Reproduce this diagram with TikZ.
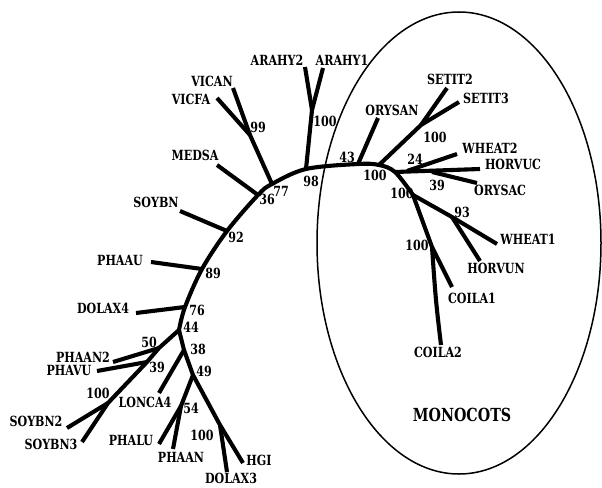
\documentclass[tikz,border=0pt]{standalone}
\usepackage{fontspec}
\newfontfamily\labfont{DejaVuSerifCondensed-Bold.ttf}[FakeStretch=0.88]
\begin{document}
\begin{tikzpicture}[x=1pt,y=-1pt,
  branch/.style={line width=4.1pt, line join=round, line cap=butt},
  hull/.style={line width=1.5pt},
  taxon/.style={inner sep=0pt, font=\labfont\fontsize{14}{15}\selectfont},
  boot/.style={inner sep=0pt, font=\labfont\fontsize{14}{15}\selectfont},
  group/.style={inner sep=0pt, font=\labfont\fontsize{18}{19}\selectfont}]
\useasboundingbox (0,0) rectangle (602,487);

% monocot hull
\draw[hull] (459,243) ellipse [x radius=142pt, y radius=231pt];

% backbone vertices
\coordinate (b1) at (179,330);
\coordinate (b2) at (185,307);
\coordinate (b3) at (202,269);
\coordinate (b4) at (227,231);
\coordinate (b5) at (258,195);
\coordinate (b6) at (272,184);
\coordinate (b7) at (306,169);
\coordinate (b8) at (358,164);
\coordinate (b9) at (379,165);
\coordinate (b10) at (395,172);
\coordinate (b11) at (413,195);

% internal vertices
\coordinate (nara) at (312,110);
\coordinate (nvic) at (250,135);
\coordinate (n50) at (159,348);
\coordinate (n39) at (147,362);
\coordinate (nsoy) at (108,403);
\coordinate (n38) at (184,350);
\coordinate (n49) at (193,375);
\coordinate (n54) at (181,406);
\coordinate (ndol) at (220,425);
\coordinate (nset) at (421,125);
\coordinate (nw2) at (407,171);
\coordinate (noc) at (432,172);
\coordinate (n93) at (452,217);
\coordinate (ncoi) at (432,247);

% leaf ends
\coordinate (arahy2) at (305,67);
\coordinate (arahy1) at (323,68);
\coordinate (vican) at (233,88);
\coordinate (vicfa) at (217,98);
\coordinate (medsa) at (217,165);
\coordinate (soybn) at (180,211);
\coordinate (phaau) at (151,262);
\coordinate (dolax4) at (136,313);
\coordinate (phaan2) at (113,362);
\coordinate (phavu) at (97,371);
\coordinate (soybn2) at (67,428);
\coordinate (soybn3) at (82,442);
\coordinate (lonca4) at (159,393);
\coordinate (phalu) at (159,444);
\coordinate (phaan) at (173,449);
\coordinate (dolax3) at (227,472);
\coordinate (hgi) at (243,463);
\coordinate (orysan) at (378,118);
\coordinate (setit2) at (447,88);
\coordinate (setit3) at (459,102);
\coordinate (wheat2) at (457,154);
\coordinate (horvuc) at (480,169);
\coordinate (orysac) at (477,183);
\coordinate (wheat1) at (497,244);
\coordinate (horvun) at (480,261);
\coordinate (coila1) at (452,287);
\coordinate (coila2) at (441,345);
\coordinate (coilam) at (436,300);

% branches
\draw[branch] plot[smooth, tension=0.55] coordinates {(b1) (b2) (b3) (b4) (b5) (b6) (b7) (b8) (b9) (b10) (b11)};
\draw[branch] (b11) -- (n93) -- (wheat1);
\draw[branch] (n93) -- (horvun);
\draw[branch] (b11) -- (ncoi) -- (coila1);
\draw[branch] plot[smooth, tension=0.6] coordinates {(ncoi) (coilam) (coila2)};
\draw[branch] (b10) -- (horvuc);
\draw[branch] (nw2) -- (wheat2);
\draw[branch] (noc) -- (orysac);
\draw[branch] (b9) -- (nset) -- (setit3);
\draw[branch] (nset) -- (setit2);
\draw[branch] (b8) -- (orysan);
\draw[branch] (b7) -- (nara) -- (arahy1);
\draw[branch] (nara) -- (arahy2);
\draw[branch] (b6) -- (nvic) -- (vican);
\draw[branch] (nvic) -- (vicfa);
\draw[branch] (b5) -- (medsa);
\draw[branch] (b4) -- (soybn);
\draw[branch] (b3) -- (phaau);
\draw[branch] (b2) -- (dolax4);
\draw[branch] (b1) -- (n50) -- (n39) -- (nsoy) -- (soybn3);
\draw[branch] (n50) -- (phaan2);
\draw[branch] (n39) -- (phavu);
\draw[branch] (nsoy) -- (soybn2);
\draw[branch] (b1) -- (n38) -- (n49) -- (ndol) -- (hgi);
\draw[branch] (n38) -- (lonca4);
\draw[branch] (n49) -- (n54) -- (phalu);
\draw[branch] (n54) -- (phaan);
\draw[branch] (ndol) -- (dolax3);

% taxon names
\node[taxon] (tarahy2) at (277,60) {ARAHY2};
\node[taxon] (tarahy1) at (342,60) {ARAHY1};
\node[taxon] (tvican) at (212,81) {VICAN};
\node[taxon] (tvicfa) at (191,99) {VICFA};
\node[taxon] (tmedsa) at (195,155) {MEDSA};
\node[taxon] (tsoybn) at (156,202) {SOYBN};
\node[taxon] (tphaau) at (120,260) {PHAAU};
\node[taxon] (tdolax4) at (103,308) {DOLAX4};
\node[taxon] (tphaan2) at (83,357) {PHAAN2};
\node[taxon] (tphavu) at (69,370.5) {PHAVU};
\node[taxon] (tsoybn2) at (36,421) {SOYBN2};
\node[taxon] (tsoybn3) at (51,444) {SOYBN3};
\node[taxon] (tlonca4) at (145,402) {LONCA4};
\node[taxon] (tphalu) at (131,440) {PHALU};
\node[taxon] (tphaan) at (181,457) {PHAAN};
\node[taxon] (tdolax3) at (231,478) {DOLAX3};
\node[taxon] (thgi) at (259,460) {HGI};
\node[taxon] (torysan) at (392,110) {ORYSAN};
\node[taxon] (tsetit2) at (450,79) {SETIT2};
\node[taxon] (tsetit3) at (486,98) {SETIT3};
\node[taxon] (twheat2) at (490,148) {WHEAT2};
\node[taxon] (thorvuc) at (513,164) {HORVUC};
\node[taxon] (torysac) at (500,190) {ORYSAC};
\node[taxon] (twheat1) at (528,239) {WHEAT1};
\node[taxon] (thorvun) at (496,268) {HORVUN};
\node[taxon] (tcoila1) at (472,298) {COILA1};
\node[taxon] (tcoila2) at (438,352) {COILA2};
\node[group] (tmono) at (462,415) {MONOCOTS};

% bootstrap values
\node[boot] (v1) at (325,121) {100};
\node[boot] (v2) at (311,181) {98};
\node[boot] (v3) at (258,127) {99};
\node[boot] (v4) at (281,191) {77};
\node[boot] (v5) at (267,199) {36};
\node[boot] (v6) at (236,237) {92};
\node[boot] (v7) at (213,273) {89};
\node[boot] (v8) at (197,310) {76};
\node[boot] (v9) at (191,327) {44};
\node[boot] (v10) at (149,342) {50};
\node[boot] (v11) at (157,367) {39};
\node[boot] (v12) at (98,393) {100};
\node[boot] (v13) at (198,349) {38};
\node[boot] (v14) at (204,371) {49};
\node[boot] (v15) at (191,408) {54};
\node[boot] (v16) at (202,435) {100};
\node[boot] (v17) at (347,157) {43};
\node[boot] (v18) at (375,175) {100};
\node[boot] (v19) at (435,137) {100};
\node[boot] (v20) at (415,159) {24};
\node[boot] (v21) at (437,185) {39};
\node[boot] (v22) at (402,193) {100};
\node[boot] (v23) at (462,212) {93};
\node[boot] (v24) at (417,245) {100};
\end{tikzpicture}
\end{document}
